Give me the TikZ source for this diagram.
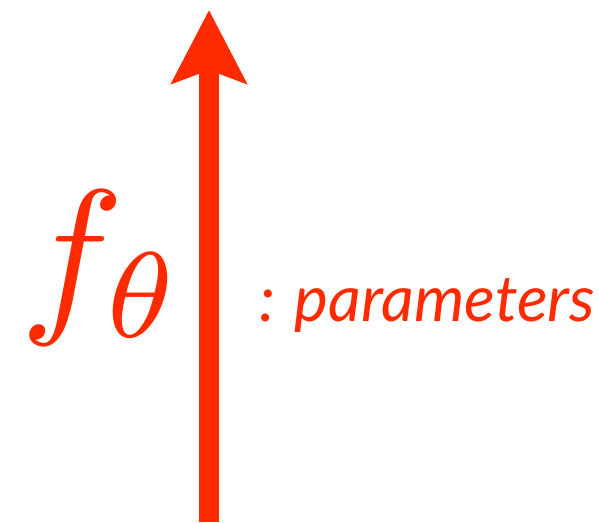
\documentclass[tikz,border=0pt]{standalone}
\usepackage{fontspec}
\setsansfont{Lato}
\usetikzlibrary{arrows.meta, positioning}
\definecolor{accent}{HTML}{FF2A00}

\begin{document}
\begin{tikzpicture}[
        x=1pt, y=1pt,
        every node/.style={inner sep=0pt, outer sep=0pt, text=accent},
        arr/.style={-{Stealth[length=73pt, width=74pt, inset=13pt]}, line width=20pt, accent},
        sym/.style={anchor=base west},
        note/.style={font=\sffamily\itshape\fontsize{64}{64}\selectfont, anchor=base west},
      ]
      \useasboundingbox (0,0) rectangle (599,522);
      \coordinate (bottom) at (209,0);
      \coordinate (top) at (209,512);

      \node[sym] (ftheta) at (20,211) {\scalebox{17.4}{$f_\theta$}};
      \node[note] (params) at (259,200) {: parameters};

      \draw[arr] (bottom) -- (top);
    \end{tikzpicture}
\end{document}
